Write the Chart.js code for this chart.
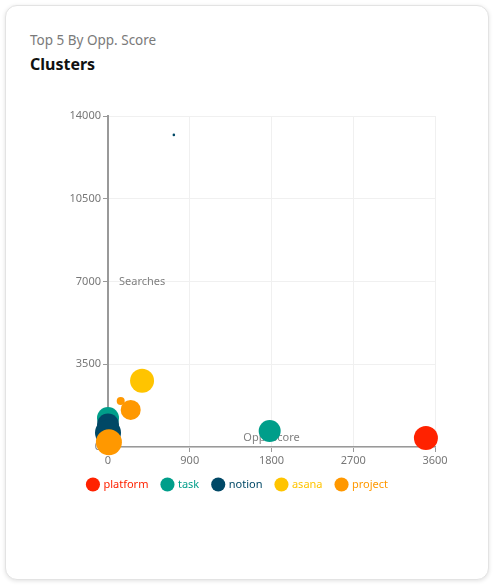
<!DOCTYPE html>
<html><head><meta charset="utf-8">
<script src="https://cdn.jsdelivr.net/npm/chart.js@4.4.1/dist/chart.umd.min.js"></script>
<style>
html,body{margin:0;padding:0;background:#fff;}
.card{position:absolute;left:5px;top:5px;width:482px;height:573px;border:1px solid #e3e3e3;border-radius:12px;box-shadow:0 1px 4px rgba(0,0,0,0.12);background:#fff;font-family:"Noto Sans",sans-serif;}
.sub{position:absolute;left:24px;top:25px;font-size:13.5px;color:#7a7a7a;}
.ttl{position:absolute;left:24px;top:47px;font-size:16px;font-weight:bold;color:#111;}
.wrap{position:absolute;left:15px;top:85px;width:454px;height:420px;}
</style></head>
<body>
<div class="card">
<div class="sub">Top 5 By Opp. Score</div>
<div class="ttl">Clusters</div>
<div class="wrap"><canvas id="c"></canvas></div>
</div>
<script>
const seriesNames = ['platform','task','notion','asana','project'];
const seriesColors = ['#ff2200','#009e8a','#004866','#ffc400','#ff9800'];
const platformX = [3500], platformY = [380], platformR = [12];
const taskX = [1780, 0], taskY = [680, 1230], taskR = [11, 11];
const notionX = [725, 0, 0], notionY = [13200, 950, 600], notionR = [1.3, 11, 13];
const asanaX = [375], asanaY = [2800], asanaR = [12];
const projectX = [250, 140, 10], projectY = [1570, 1950, 200], projectR = [10, 4, 13];
const xTicks = [0, 900, 1800, 2700, 3600];
const yTicks = [0, 3500, 7000, 10500, 14000];
const xTitle = 'Opp. Score', yTitle = 'Searches';

const seriesX = [platformX, taskX, notionX, asanaX, projectX];
const seriesY = [platformY, taskY, notionY, asanaY, projectY];
const seriesR = [platformR, taskR, notionR, asanaR, projectR];
const drawOrder = [4, 3, 2, 1, 0];

const datasets = seriesNames.map((n, i) => ({
  label: n,
  data: seriesX[i].map((x, j) => ({x: x, y: seriesY[i][j], r: seriesR[i][j]})),
  backgroundColor: seriesColors[i],
  borderColor: seriesColors[i],
  borderWidth: 0,
  order: drawOrder[i],
  clip: false
}));

const innerTitles = {
  id: 'innerTitles',
  beforeDatasetsDraw(chart) {
    const ctx = chart.ctx, a = chart.chartArea;
    ctx.save();
    ctx.font = '11px "Noto Sans", sans-serif';
    ctx.fillStyle = '#808080';
    ctx.textBaseline = 'middle';
    ctx.textAlign = 'left';
    ctx.fillText(yTitle, a.left + 11, (a.top + a.bottom) / 2);
    ctx.textAlign = 'center';
    ctx.fillText(xTitle, (a.left + a.right) / 2, a.bottom - 9);
    ctx.restore();
  }
};

const tickFont = {family: '"Noto Sans", sans-serif', size: 11};
new Chart(document.getElementById('c'), {
  type: 'bubble',
  data: {datasets},
  plugins: [innerTitles],
  options: {
    responsive: true, maintainAspectRatio: false, animation: false,
    layout: {padding: {top: 25, right: 40, bottom: 11, left: 20}},
    plugins: {
      tooltip: {enabled: false},
      legend: {
        position: 'bottom',
        labels: {
          usePointStyle: true, boxWidth: 10, boxHeight: 10, padding: 14,
          font: {family: '"Noto Sans", sans-serif', size: 11},
          generateLabels(chart) {
            return chart.data.datasets.map((d, i) => ({
              text: d.label, fillStyle: d.backgroundColor, strokeStyle: d.backgroundColor,
              lineWidth: 0, pointStyle: 'circle', fontColor: d.backgroundColor,
              hidden: !chart.isDatasetVisible(i), datasetIndex: i
            }));
          }
        }
      }
    },
    scales: {
      x: {
        type: 'linear', min: 0, max: 3600,
        afterBuildTicks(s) { s.ticks = xTicks.map(v => ({value: v})); },
        afterFit(s) { s.height = 18; },
        ticks: {color: '#777', font: tickFont, padding: 2, maxRotation: 0, callback: v => String(v)},
        grid: {color: '#f0f0f0', tickColor: '#999', tickLength: 5, drawTicks: true},
        border: {color: '#999', width: 1.5}
      },
      y: {
        type: 'linear', min: 0, max: 14000,
        afterBuildTicks(s) { s.ticks = yTicks.map(v => ({value: v})); },
        afterFit(s) { s.width = 67; },
        ticks: {color: '#777', font: tickFont, padding: 2, callback: v => String(v)},
        grid: {color: '#f0f0f0', tickColor: '#999', tickLength: 5},
        border: {color: '#999', width: 2}
      }
    }
  }
});
</script>
</body></html>
